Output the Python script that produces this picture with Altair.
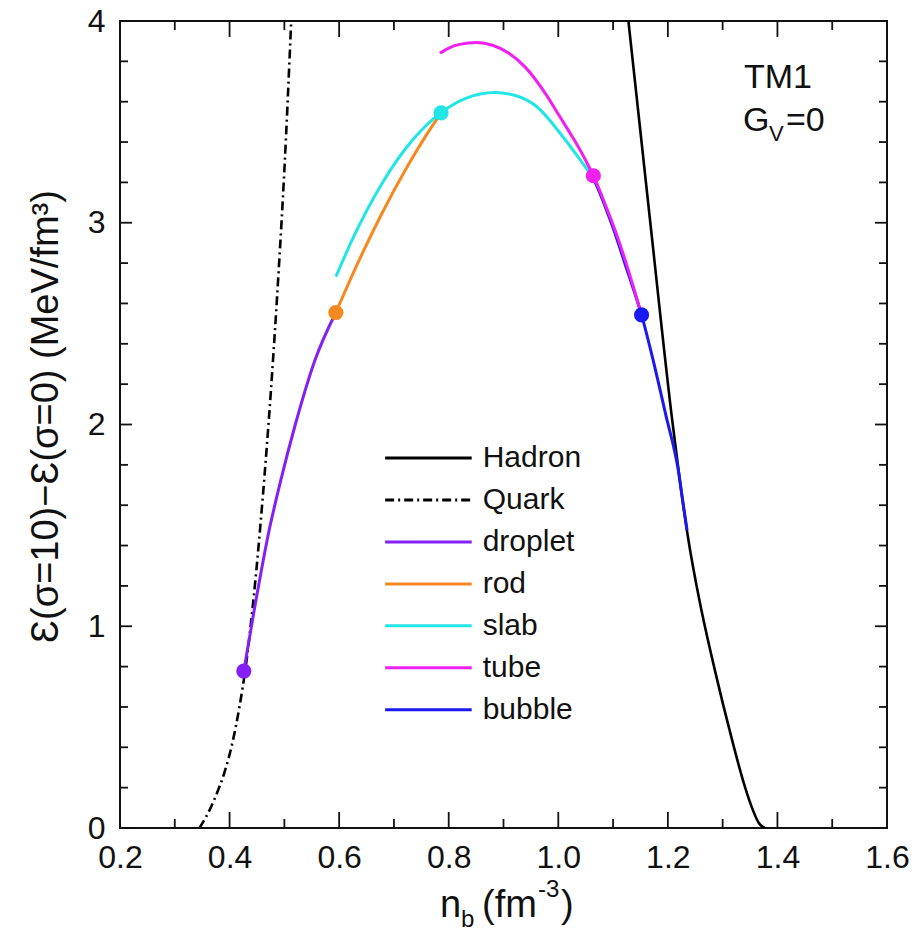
import altair as alt
import pandas as pd

FONT = "Liberation Sans"
W, H = 767, 807

# ---------------- data ----------------
hadron_x = [1.128, 1.168, 1.208, 1.222, 1.238, 1.259, 1.286, 1.315, 1.340, 1.355, 1.366, 1.377]
hadron_y = [4.0, 3.0, 2.02, 1.72, 1.42, 1.11, 0.78, 0.46, 0.21, 0.09, 0.025, 0.0]

quark_x = [0.345, 0.36, 0.375, 0.39, 0.405, 0.418, 0.43, 0.445, 0.46, 0.475, 0.49, 0.50, 0.5125]
quark_y = [0.0, 0.07, 0.16, 0.27, 0.42, 0.60, 0.81, 1.17, 1.62, 2.15, 2.78, 3.26, 4.0]

droplet_x = [0.426, 0.445, 0.471, 0.495, 0.519, 0.556, 0.594]
droplet_y = [0.778, 1.08, 1.46, 1.74, 1.99, 2.32, 2.555]

rod_x = [0.594, 0.63, 0.675, 0.72, 0.755, 0.786]
rod_y = [2.555, 2.776, 3.03, 3.258, 3.417, 3.545]

slab_x = [0.594, 0.63, 0.675, 0.72, 0.755, 0.786, 0.83, 0.885, 0.92, 0.961, 1.003, 1.035, 1.064, 1.075]
slab_y = [2.733, 2.951, 3.18, 3.363, 3.472, 3.545, 3.615, 3.645, 3.632, 3.575, 3.445, 3.33, 3.215, 3.16]

tube_x = [0.784, 0.80, 0.82, 0.851, 0.88, 0.91, 0.94, 0.979, 1.003, 1.027, 1.045, 1.064, 1.085, 1.10, 1.125, 1.152]
tube_y = [3.84, 3.866, 3.884, 3.893, 3.88, 3.84, 3.77, 3.63, 3.525, 3.42, 3.335, 3.233, 3.095, 2.99, 2.79, 2.543]

bubble_x = [1.064, 1.085, 1.10, 1.125, 1.152, 1.173, 1.196, 1.219, 1.227, 1.235]
bubble_y = [3.225, 3.085, 2.975, 2.77, 2.543, 2.32, 2.05, 1.774, 1.625, 1.476]

dot_series = ["droplet", "rod", "slab", "tube", "bubble"]
dot_x = [0.426, 0.594, 0.786, 1.064, 1.152]
dot_y = [0.778, 2.555, 3.545, 3.233, 2.543]

legend_names = ["Hadron", "Quark", "droplet", "rod", "slab", "tube", "bubble"]

x_major = [0.2, 0.4, 0.6, 0.8, 1.0, 1.2, 1.4, 1.6]
x_minor = [0.3, 0.5, 0.7, 0.9, 1.1, 1.3, 1.5]
y_major = [0, 1, 2, 3, 4]
y_minor = [0.2, 0.4, 0.6, 0.8, 1.2, 1.4, 1.6, 1.8, 2.2, 2.4, 2.6, 2.8, 3.2, 3.4, 3.6, 3.8]

# ---------------- styles ----------------
COLORS = {
    "Hadron": "#000000",
    "Quark": "#000000",
    "droplet": "#8420f5",
    "rod": "#f5891f",
    "slab": "#22e6e6",
    "tube": "#f020f0",
    "bubble": "#1a1af0",
}
QUARK_DASH = [9, 4, 2, 4]
INK = "#111111"

xs = alt.Scale(domain=[0.2, 1.6], nice=False, zero=False)
ys = alt.Scale(domain=[0, 4], nice=False, zero=False)

ax_x = alt.Axis(values=x_major, format=".1f", ticks=False, domain=False, grid=False,
                labelFontSize=32, labelPadding=14, labelFlush=False, labelOverlap=False,
                labelColor=INK, labelFont=FONT, title=None)
ax_y = alt.Axis(values=y_major, format="d", ticks=False, domain=False, grid=False,
                labelFontSize=32, labelPadding=15, labelFlush=False, labelOverlap=False,
                labelColor=INK, labelFont=FONT,
                title="Ɛ(σ=10)−Ɛ(σ=0) (MeV/fm³)", titleFont=FONT, titleFontSize=38,
                titleFontWeight="normal", titleColor=INK,
                titleX=-74, titleY=395, titleAngle=270, titleBaseline="middle", titleAlign="center")


def X(field="x"):
    return alt.X(f"{field}:Q", scale=xs, axis=ax_x)


def Y(field="y"):
    return alt.Y(f"{field}:Q", scale=ys, axis=ax_y)


def curve(xv, yv, color, width=3.0, dash=None):
    df = pd.DataFrame({"x": xv, "y": yv, "i": list(range(len(xv)))})
    kw = dict(color=color, strokeWidth=width, clip=True, interpolate="monotone")
    if dash:
        kw["strokeDash"] = dash
    return alt.Chart(df).mark_line(**kw).encode(x=X(), y=Y(), order="i:Q")


layers = []


# inward ticks on all four sides
def xticks(vals, length):
    df = pd.DataFrame({"x": vals})
    bot = alt.Chart(df).mark_rule(color=INK, strokeWidth=1.8).encode(
        x=X(), y=alt.value(H), y2=alt.value(H - length))
    top = alt.Chart(df).mark_rule(color=INK, strokeWidth=1.8).encode(
        x=X(), y=alt.value(0), y2=alt.value(length))
    return [bot, top]


def yticks(vals, length):
    df = pd.DataFrame({"y": vals})
    left = alt.Chart(df).mark_rule(color=INK, strokeWidth=1.8).encode(
        y=Y(), x=alt.value(0), x2=alt.value(length))
    right = alt.Chart(df).mark_rule(color=INK, strokeWidth=1.8).encode(
        y=Y(), x=alt.value(W), x2=alt.value(W - length))
    return [left, right]


layers += xticks(x_major, 16) + xticks(x_minor, 9)
layers += yticks(y_major, 12) + yticks(y_minor, 8)

# curves
layers.append(curve(hadron_x, hadron_y, COLORS["Hadron"], 2.6))
layers.append(curve(quark_x, quark_y, COLORS["Quark"], 2.6, QUARK_DASH))
layers.append(curve(droplet_x, droplet_y, COLORS["droplet"]))
layers.append(curve(rod_x, rod_y, COLORS["rod"]))
layers.append(curve(slab_x, slab_y, COLORS["slab"]))
layers.append(curve(bubble_x, bubble_y, COLORS["bubble"]))
layers.append(curve(tube_x, tube_y, COLORS["tube"]))

# transition dots
dots = pd.DataFrame({"x": dot_x, "y": dot_y, "c": [COLORS[s] for s in dot_series]})
layers.append(alt.Chart(dots).mark_circle(size=230, opacity=1).encode(
    x=X(), y=Y(), color=alt.Color("c:N", scale=None)))

# legend (inside plot)
LEG_TOP, LEG_STEP = 1.834, 0.208
LEG_X0, LEG_X1, LEG_XT = 0.684, 0.842, 0.862
leg = pd.DataFrame({
    "name": legend_names,
    "y": [LEG_TOP - LEG_STEP * i for i in range(len(legend_names))],
    "x": [LEG_X0] * len(legend_names),
    "x2": [LEG_X1] * len(legend_names),
    "xt": [LEG_XT] * len(legend_names),
    "c": [COLORS[n] for n in legend_names],
})
leg_solid = leg[leg["name"] != "Quark"]
leg_quark = leg[leg["name"] == "Quark"]
layers.append(alt.Chart(leg_solid).mark_rule(strokeWidth=3).encode(
    x=X(), x2="x2:Q", y=Y(), color=alt.Color("c:N", scale=None)))
layers.append(alt.Chart(leg_quark).mark_rule(strokeWidth=3, color="black", strokeDash=QUARK_DASH).encode(
    x=X(), x2="x2:Q", y=Y()))
layers.append(alt.Chart(leg).mark_text(align="left", baseline="middle", font=FONT, fontSize=30,
                                       color=INK).encode(
    x=X("xt"), y=Y(), text="name:N"))


# annotation TM1, G_V=0
def label(text, x, y, size, align="left", baseline="alphabetic"):
    return alt.Chart(pd.DataFrame({"t": [text]})).mark_text(
        align=align, baseline=baseline, font=FONT, fontSize=size, color=INK
    ).encode(text="t:N", x=alt.value(x), y=alt.value(y))


layers.append(label("TM1", 658, 67, 34, align="center"))
layers.append(label("G", 623, 110, 34))
layers.append(label("V", 649, 120, 22))
layers.append(label("=0", 666, 110, 34))

# x-axis title n_b (fm^-3)
layers.append(label("n", 320, 896, 38))
layers.append(label("b", 341, 906, 24))
layers.append(label("(fm", 362, 896, 38))
layers.append(label("-3", 418, 876, 24))
layers.append(label(")", 441, 896, 38))

chart = alt.layer(*layers).properties(
    width=W, height=H,
    padding={"left": 120, "top": 21, "right": 30, "bottom": 108},
    autosize=alt.AutoSizeParams(type="none"),
    background="white",
).configure_view(stroke=INK, strokeWidth=2)

chart.save("out.html", embed_options={"renderer": "svg", "actions": False})
